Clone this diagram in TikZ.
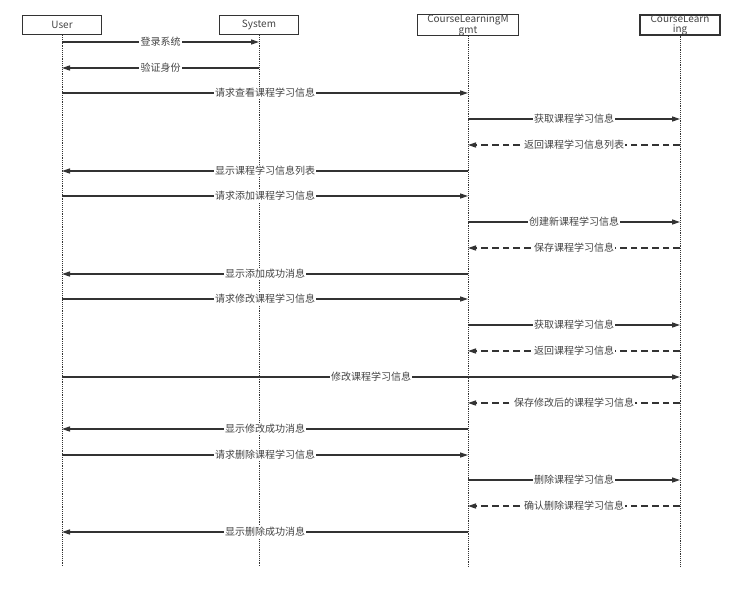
\documentclass[tikz,border=0pt]{standalone}
\usepackage{fontspec}
\setmainfont{Noto Sans CJK SC}
\usetikzlibrary{positioning, arrows.meta}

\definecolor{linegray}{HTML}{333333}
\definecolor{textgray}{HTML}{444444}

\begin{document}
\begin{tikzpicture}[
                x=0.75pt, y=-0.75pt,
                    actor/.style = {draw=linegray, thick, minimum height=14.5pt, inner sep=0pt, align=center, font=\fontsize{7.5}{7}\selectfont, text=textgray},
                    lifeline/.style = {densely dotted, draw=linegray},
                    msg/.style = {-{Triangle[length=6pt, width=3.8pt]}, thick, draw=linegray},
                    reply/.style = {msg, dashed, dash pattern=on 5pt off 3pt},
                    lbl/.style = {fill=white, inner sep=1pt, font=\fontsize{7.5}{8}\selectfont, text=textgray}
                ]

                \useasboundingbox (0,0) rectangle (742,589);

                % participants
                \node[actor, minimum width=59pt] (user) at (62,25) {User};
                \node[actor, minimum width=59pt] (sys) at (259,25) {System};
                \node[actor, minimum width=76pt, minimum height=15pt, text width=74pt] (clm) at (468,25) {CourseLearningM\\gmt};
                \node[actor, minimum width=60pt, minimum height=15pt, text width=58pt] (cl) at (680,25) {CourseLearn\\ing};

                % lifelines
                \coordinate (bottom) at (0,567);
                \draw[lifeline] (user.south) -- (user |- bottom);
                \draw[lifeline] (sys.south) -- (sys |- bottom);
                \draw[lifeline] (clm.south) -- (clm |- bottom);
                \draw[lifeline] (cl.south) -- (cl |- bottom);

                % message rows
                \foreach \i/\y in {1/42, 2/68, 3/93, 4/119, 5/145, 6/171, 7/196, 8/222, 9/248, 10/274,
                                   11/299, 12/325, 13/351, 14/377, 15/403, 16/429, 17/455, 18/480, 19/506, 20/532}
                    \coordinate (r\i) at (0,\y);

                \draw[msg] (user |- r1) -- node[lbl] {登录系统} (sys |- r1);
                \draw[msg] (sys |- r2) -- node[lbl] {验证身份} (user |- r2);
                \draw[msg] (user |- r3) -- node[lbl] {请求查看课程学习信息} (clm |- r3);
                \draw[msg] (clm |- r4) -- node[lbl] {获取课程学习信息} (cl |- r4);
                \draw[reply] (cl |- r5) -- node[lbl] {返回课程学习信息列表} (clm |- r5);
                \draw[msg] (clm |- r6) -- node[lbl] {显示课程学习信息列表} (user |- r6);
                \draw[msg] (user |- r7) -- node[lbl] {请求添加课程学习信息} (clm |- r7);
                \draw[msg] (clm |- r8) -- node[lbl] {创建新课程学习信息} (cl |- r8);
                \draw[reply] (cl |- r9) -- node[lbl] {保存课程学习信息} (clm |- r9);
                \draw[msg] (clm |- r10) -- node[lbl] {显示添加成功消息} (user |- r10);
                \draw[msg] (user |- r11) -- node[lbl] {请求修改课程学习信息} (clm |- r11);
                \draw[msg] (clm |- r12) -- node[lbl] {获取课程学习信息} (cl |- r12);
                \draw[reply] (cl |- r13) -- node[lbl] {返回课程学习信息} (clm |- r13);
                \draw[msg] (user |- r14) -- node[lbl] {修改课程学习信息} (cl |- r14);
                \draw[reply] (cl |- r15) -- node[lbl] {保存修改后的课程学习信息} (clm |- r15);
                \draw[msg] (clm |- r16) -- node[lbl] {显示修改成功消息} (user |- r16);
                \draw[msg] (user |- r17) -- node[lbl] {请求删除课程学习信息} (clm |- r17);
                \draw[msg] (clm |- r18) -- node[lbl] {删除课程学习信息} (cl |- r18);
                \draw[reply] (cl |- r19) -- node[lbl] {确认删除课程学习信息} (clm |- r19);
                \draw[msg] (clm |- r20) -- node[lbl] {显示删除成功消息} (user |- r20);

            \end{tikzpicture}
\end{document}
